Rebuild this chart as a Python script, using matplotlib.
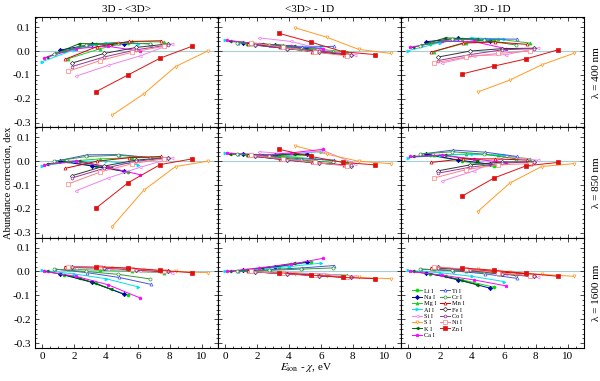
import matplotlib
matplotlib.use('Agg')
import matplotlib.pyplot as plt
from matplotlib.ticker import MultipleLocator, FormatStrFormatter

plt.rcParams['font.family'] = ['Liberation Serif', 'DejaVu Serif']
plt.rcParams['mathtext.fontset'] = 'stix'
plt.rcParams['axes.unicode_minus'] = False

# ---------------- data ----------------
ELEMENTS = ['Li I', 'Na I', 'Mg I', 'Al I', 'Si I', 'S I', 'K I', 'Ca I',
            'Ti I', 'Cr I', 'Mn I', 'Fe I', 'Co I', 'Ni I', 'Zn I']

X_LI = [1.39, 3.39, 5.39]
X_NA = [1.14, 3.14, 5.14]
X_MG = [1.65, 3.65, 5.65, 7.65]
X_AL = [-0.01, 1.99, 3.99, 5.99]
X_SI = [2.15, 4.15, 6.15, 8.15]
X_S = [4.36, 6.36, 8.36, 10.36]
X_K = [0.34, 2.34, 4.34]
X_CA = [0.11, 2.11, 4.11, 6.11]
X_TI = [0.83, 2.83, 4.83, 6.83]
X_CR = [0.77, 2.77, 4.77, 6.77]
X_MN = [1.43, 3.43, 5.43, 7.43]
X_FE = [1.90, 3.90, 5.90, 7.90]
X_CO = [1.88, 3.88, 5.88, 7.88]
X_NI = [1.64, 3.64, 5.64, 7.64]
X_ZN = [3.39, 5.39, 7.39, 9.39]

COLUMN_TITLES = ['3D - <3D>', '<3D> - 1D', '3D - 1D']
ROW_LABELS = ['λ = 400 nm', 'λ = 850 nm', 'λ = 1600 nm']

# 400 nm
A400 = [[0.0, 0.03, 0.035], [0.004, 0.028, 0.03], [-0.032, 0.01, 0.04, 0.038],
        [-0.045, 0.005, 0.035, 0.03], [-0.105, -0.06, -0.02, 0.03], [-0.27, -0.18, -0.065, 0.0],
        [-0.025, 0.031, 0.03], [-0.03, 0.01, 0.02, 0.0], [-0.01, 0.025, 0.035, 0.03],
        [-0.012, 0.025, 0.035, 0.03], [-0.035, 0.018, 0.04, 0.043], [-0.05, -0.01, 0.015, 0.03],
        [-0.065, -0.025, 0.005, 0.025], [-0.085, -0.04, -0.005, 0.02], [-0.17, -0.10, -0.03, 0.02]]
B400 = [[0.03, 0.02, 0.01], [0.035, 0.025, 0.01], [0.03, 0.025, 0.01, -0.005],
        [0.046, 0.03, 0.02, 0.02], [0.055, 0.04, 0.005, -0.017], [0.098, 0.058, 0.007, -0.01],
        [0.04, 0.03, 0.02], [0.045, 0.03, 0.02, 0.01], [0.035, 0.025, 0.015, 0.02],
        [0.035, 0.025, 0.01, -0.005], [0.03, 0.015, -0.002, -0.015], [0.025, 0.01, -0.005, -0.018],
        [0.025, 0.01, 0.0, -0.015], [0.035, 0.015, -0.005, -0.02], [0.074, 0.037, -0.003, -0.015]]
C400 = [[0.03, 0.05, 0.045], [0.039, 0.053, 0.04], [-0.002, 0.035, 0.05, 0.033],
        [0.001, 0.035, 0.055, 0.05], [-0.05, -0.02, -0.015, 0.013], [-0.172, -0.122, -0.058, -0.01],
        [0.015, 0.055, 0.05], [0.015, 0.04, 0.04, 0.01], [0.025, 0.05, 0.05, 0.05],
        [0.023, 0.05, 0.045, 0.025], [-0.005, 0.033, 0.038, 0.028], [-0.025, 0.0, 0.01, 0.012],
        [-0.04, -0.015, 0.005, 0.01], [-0.05, -0.025, -0.01, 0.0], [-0.096, -0.063, -0.033, 0.005]]

# 850 nm
A850 = [[0.0, -0.02, -0.046], [0.0, -0.02, -0.042], [0.0, 0.01, 0.015, 0.015],
        [-0.02, 0.0, 0.0, -0.014], [-0.123, -0.07, -0.025, 0.014], [-0.276, -0.122, -0.022, 0.0],
        [-0.01, 0.0, -0.027], [-0.015, 0.0, -0.025, -0.056], [0.0, 0.027, 0.028, 0.015],
        [0.0, 0.02, 0.025, 0.015], [-0.03, 0.0, 0.015, 0.02], [-0.06, -0.02, 0.005, 0.015],
        [-0.07, -0.03, 0.0, 0.015], [-0.095, -0.045, -0.01, 0.01], [-0.196, -0.09, -0.014, 0.01]]
B850 = [[0.025, 0.02, 0.025], [0.03, 0.025, 0.03], [0.025, 0.02, 0.01, -0.005],
        [0.035, 0.025, 0.03, 0.04], [0.04, 0.03, 0.045, -0.01], [0.065, 0.03, 0.0, -0.01],
        [0.03, 0.025, 0.03], [0.035, 0.025, 0.035, 0.05], [0.03, 0.02, 0.01, 0.005],
        [0.03, 0.02, 0.005, -0.005], [0.025, 0.01, -0.005, -0.015], [0.02, 0.005, -0.008, -0.018],
        [0.02, 0.005, -0.008, -0.017], [0.025, 0.01, -0.005, -0.02], [0.05, 0.02, -0.005, -0.015]]
C850 = [[0.025, 0.0, -0.021], [0.03, 0.005, -0.012], [0.025, 0.03, 0.025, 0.01],
        [0.015, 0.025, 0.03, 0.026], [-0.083, -0.04, 0.02, 0.004], [-0.211, -0.092, -0.022, -0.01],
        [0.02, 0.025, 0.003], [0.02, 0.025, 0.01, -0.006], [0.03, 0.047, 0.038, 0.02],
        [0.03, 0.04, 0.03, 0.01], [-0.005, 0.01, 0.01, 0.005], [-0.04, -0.015, -0.003, -0.003],
        [-0.05, -0.025, -0.008, -0.002], [-0.07, -0.035, -0.015, -0.01], [-0.146, -0.07, -0.019, -0.005]]

# 1600 nm
A1600 = [[-0.015, -0.05, -0.1], [-0.01, -0.045, -0.096], [0.01, 0.005, 0.0, -0.005],
         [0.005, -0.01, -0.03, -0.064], [0.015, 0.01, 0.0, -0.005], [0.015, 0.005, 0.0, -0.005],
         [0.0, -0.027, -0.075], [0.0, -0.02, -0.055, -0.11], [0.01, -0.005, -0.025, -0.054],
         [0.01, 0.0, -0.012, -0.031], [0.02, 0.018, 0.01, 0.0], [0.02, 0.015, 0.008, 0.0],
         [0.018, 0.015, 0.008, 0.0], [0.02, 0.018, 0.01, 0.002], [0.02, 0.015, 0.005, -0.005]]
B1600 = [[0.005, 0.02, 0.04], [0.005, 0.02, 0.04], [0.0, -0.005, -0.01, -0.015],
         [0.0, 0.01, 0.02, 0.035], [0.0, -0.005, -0.01, -0.02], [-0.01, -0.02, -0.025, -0.03],
         [0.0, 0.015, 0.035], [0.0, 0.015, 0.03, 0.055], [0.0, 0.008, 0.015, 0.025],
         [0.0, 0.005, 0.01, 0.015], [0.0, -0.008, -0.015, -0.022], [-0.002, -0.01, -0.018, -0.025],
         [-0.002, -0.01, -0.018, -0.025], [0.0, -0.008, -0.016, -0.024], [-0.005, -0.015, -0.025, -0.03]]
C1600 = [[-0.01, -0.035, -0.066], [-0.005, -0.035, -0.07], [0.01, 0.0, -0.01, -0.02],
         [0.005, -0.005, -0.02, -0.042], [0.015, 0.005, -0.01, -0.025], [0.01, -0.003, -0.012, -0.02],
         [0.0, -0.02, -0.055], [0.0, -0.015, -0.035, -0.06], [0.01, 0.003, -0.01, -0.029],
         [0.01, 0.005, -0.002, -0.016], [0.015, 0.01, 0.0, -0.01], [0.018, 0.005, -0.01, -0.02],
         [0.016, 0.005, -0.01, -0.02], [0.02, 0.01, -0.006, -0.018], [0.015, 0.005, -0.008, -0.02]]

X_ALL = [X_LI, X_NA, X_MG, X_AL, X_SI, X_S, X_K, X_CA, X_TI, X_CR, X_MN, X_FE, X_CO, X_NI, X_ZN]
PANELS = [[A400, B400, C400], [A850, B850, C850], [A1600, B1600, C1600]]

# styles: color, marker, filled
STYLES = [('#00dd00', 'o', True), ('#0000aa', 'D', True), ('#22cc22', '^', True),
          ('#00e0f0', '>', True), ('#ee82ee', '<', False), ('#ff9a22', 'v', False),
          ('#006400', '<', True), ('#ff00ff', 'p', True), ('#4455dd', '^', False),
          ('#339933', 'o', False), ('#cc0000', '^', False), ('#333333', 'D', False),
          ('#993399', 'h', False), ('#ff8080', 's', False), ('#e01010', 's', True)]

fig, axes = plt.subplots(3, 3, figsize=(6.0, 3.81), dpi=100, sharex=True, sharey=True,
                         gridspec_kw=dict(hspace=0, wspace=0, left=0.058, right=0.973,
                                          top=0.955, bottom=0.087))

for r in range(3):
    for c in range(3):
        ax = axes[r, c]
        ax.axhline(0.0, color='#a9cdd4', lw=0.8, zorder=0)
        data = PANELS[r][c]
        for i, name in enumerate(ELEMENTS):
            col, mk, filled = STYLES[i]
            ax.plot(X_ALL[i], data[i], color=col, lw=0.7, marker=mk, ms=2.2,
                    mfc=col if filled else 'white', mec=col, mew=0.5, label=name)
        ax.set_xlim(-0.45, 11.0)
        ax.set_ylim(-0.32, 0.142)
        ax.xaxis.set_major_locator(MultipleLocator(2))
        ax.xaxis.set_minor_locator(MultipleLocator(0.5))
        ax.yaxis.set_major_locator(MultipleLocator(0.1))
        ax.yaxis.set_minor_locator(MultipleLocator(0.02))
        ax.yaxis.set_major_formatter(FormatStrFormatter('%.1f'))
        ax.tick_params(which='both', direction='in', top=True, right=True, width=0.5,
                       labelsize=8, pad=3)
        ax.tick_params(which='major', length=3)
        ax.tick_params(which='minor', length=1.5)
        for s in ax.spines.values():
            s.set_linewidth(0.8)
        if r == 0:
            ax.set_title(COLUMN_TITLES[c], fontsize=8, pad=4)
        if c == 2:
            ax.text(1.07, 0.5, ROW_LABELS[r], transform=ax.transAxes, rotation=90,
                    ha='center', va='center', fontsize=8)

leg = axes[2, 2].legend(loc='upper left', bbox_to_anchor=(0.04, 0.58), ncol=2,
                        frameon=False, fontsize=4.5, handlelength=1.6, handletextpad=0.3,
                        labelspacing=0.15, columnspacing=0.5, borderpad=0.2)

fig.text(0.013, 0.52, 'Abundance correction, dex', rotation=90, ha='center', va='center',
         fontsize=7.5)
fig.text(0.51, 0.035, r'$E_{\rm ion}$ - $\chi$, eV', ha='center', va='center', fontsize=8)

fig.savefig('out.png', dpi=100)
